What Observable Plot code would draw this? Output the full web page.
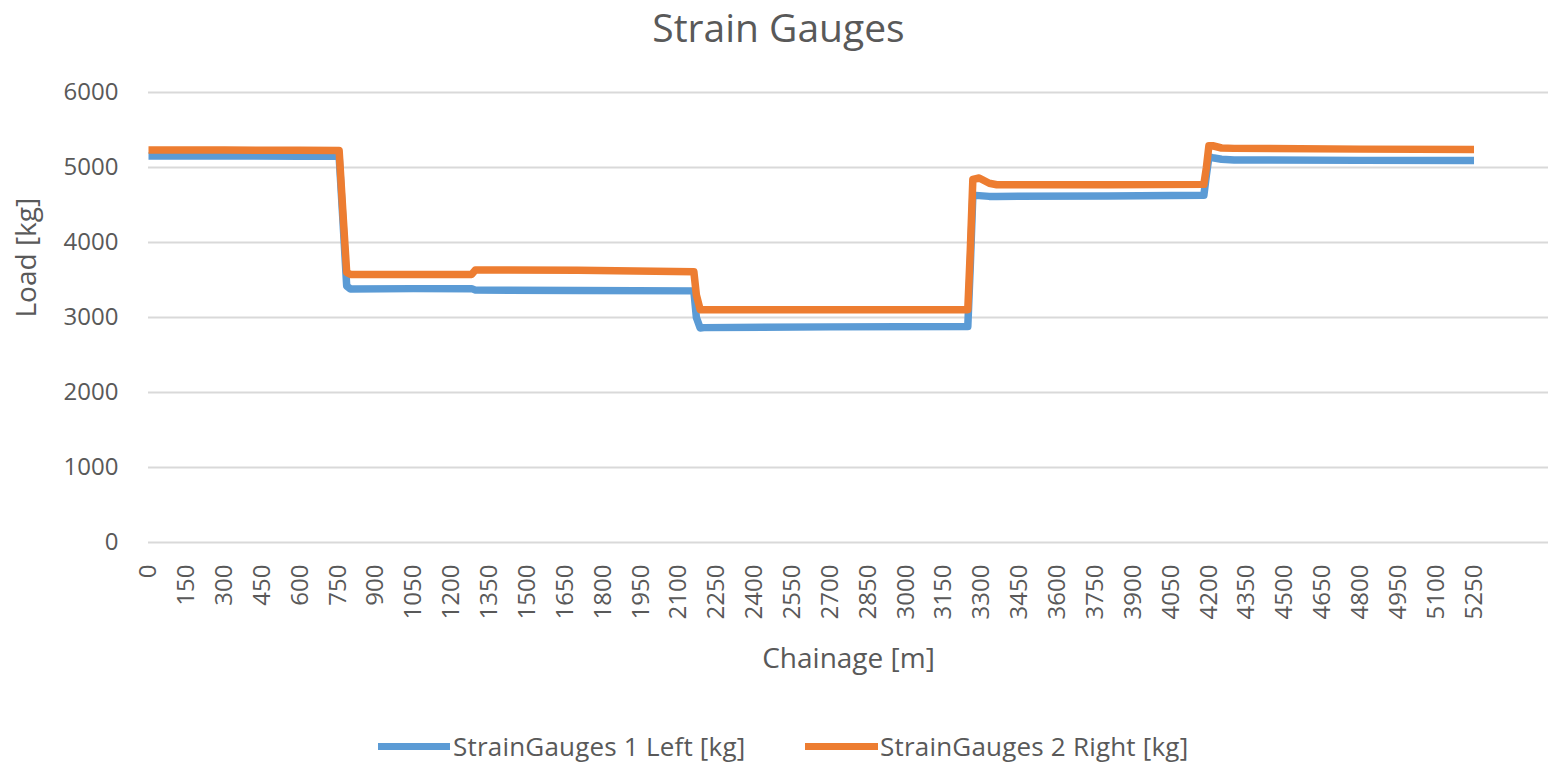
<!DOCTYPE html>
<html>
<head>
<meta charset="utf-8">
<script src="https://cdn.jsdelivr.net/npm/d3@7"></script>
<script src="https://cdn.jsdelivr.net/npm/@observablehq/plot@0.6"></script>
<style>
  body { margin: 0; background: #fff; font-family: "Open Sans", sans-serif; color: #595959; width: 1551px; }
  #title { height: 60px; line-height: 53px; text-align: center; font-size: 39px; color: #595959; padding-left: 6px; box-sizing: border-box; }
  #legend { position: relative; height: 42px; }
  #legend .sw { position: absolute; top: 23px; height: 7px; }
  #legend .lt { position: absolute; top: 26px; transform: translateY(-50%); font-size: 26px; letter-spacing: 0.2px; line-height: 32px; color: #595959; white-space: nowrap; }
</style>
</head>
<body>
<div id="title">Strain Gauges</div>
<div id="chart"></div>
<div id="legend"></div>
<script>
// ---- data ----
const chainage = [0, 300, 600, 755, 770, 785, 800, 1050, 1280, 1295, 1700, 2160, 2170, 2185, 2200, 2700, 3245, 3255, 3265, 3290, 3330, 3360, 3800, 4180, 4190, 4200, 4215, 4250, 4300, 4800, 5250];
const leftLoad = [5155, 5155, 5150, 5150, 4300, 3420, 3380, 3385, 3385, 3365, 3360, 3355, 3000, 2860, 2865, 2875, 2880, 3700, 4630, 4625, 4615, 4615, 4620, 4630, 4900, 5140, 5130, 5110, 5100, 5095, 5095];
const rightLoad = [5232, 5232, 5230, 5228, 4400, 3600, 3575, 3575, 3575, 3635, 3630, 3610, 3300, 3105, 3105, 3105, 3105, 3900, 4840, 4860, 4790, 4770, 4770, 4775, 5000, 5290, 5290, 5260, 5255, 5245, 5240];
const seriesNames = ["StrainGauges 1 Left [kg]", "StrainGauges 2 Right [kg]"];
const seriesColors = ["#5B9BD5", "#ED7D31"];
const xTicks = [0, 150, 300, 450, 600, 750, 900, 1050, 1200, 1350, 1500, 1650, 1800, 1950, 2100, 2250, 2400, 2550, 2700, 2850, 3000, 3150, 3300, 3450, 3600, 3750, 3900, 4050, 4200, 4350, 4500, 4650, 4800, 4950, 5100, 5250];
const yTicks = [0, 1000, 2000, 3000, 4000, 5000, 6000];
const titleText = "Strain Gauges";
const xTitle = "Chainage [m]";
const yTitle = "Load [kg]";

const leftRows = chainage.map((c, i) => ({chainage: c, load: leftLoad[i], series: seriesNames[0]}));
const rightRows = chainage.map((c, i) => ({chainage: c, load: rightLoad[i], series: seriesNames[1]}));

document.getElementById("title").textContent = titleText;

const chart = Plot.plot({
  width: 1551,
  height: 660,
  marginTop: 32,
  marginBottom: 178,
  marginLeft: 148,
  marginRight: 3,
  style: {fontFamily: "Open Sans, sans-serif", fontSize: "24px", color: "#595959", background: "white", overflow: "visible"},
  x: {domain: [0, 5545], ticks: xTicks, tickFormat: d => String(d), tickRotate: -90, tickSize: 0, tickPadding: 22, label: null},
  y: {domain: [0, 6000], ticks: yTicks, tickFormat: d => String(d), tickSize: 0, tickPadding: 30, label: null},
  marks: [
    Plot.ruleY(yTicks, {stroke: "#D9D9D9", strokeWidth: 2}),
    Plot.line(leftRows, {x: "chainage", y: "load", stroke: seriesColors[0], strokeWidth: 7.5, strokeLinejoin: "round", strokeLinecap: "butt"}),
    Plot.line(rightRows, {x: "chainage", y: "load", stroke: seriesColors[1], strokeWidth: 7.5, strokeLinejoin: "round", strokeLinecap: "butt"}),
    Plot.text([xTitle], {text: d => d, frameAnchor: "bottom", dy: 117, fontSize: 28, fill: "#595959", lineAnchor: "middle"}),
    Plot.text([yTitle], {text: d => d, frameAnchor: "left", dx: -121, rotate: -90, fontSize: 28, fill: "#595959", lineAnchor: "middle"})
  ]
});
document.getElementById("chart").appendChild(chart);

// legend
const legend = document.getElementById("legend");
const legendPos = [{sw: 378, w: 72, tx: 453}, {sw: 805, w: 73, tx: 880}];
seriesNames.forEach((name, i) => {
  const sw = document.createElement("span");
  sw.className = "sw";
  sw.style.left = legendPos[i].sw + "px";
  sw.style.width = legendPos[i].w + "px";
  sw.style.background = seriesColors[i];
  legend.appendChild(sw);
  const t = document.createElement("span");
  t.className = "lt";
  t.style.left = legendPos[i].tx + "px";
  t.textContent = name;
  legend.appendChild(t);
});
</script>
</body>
</html>
